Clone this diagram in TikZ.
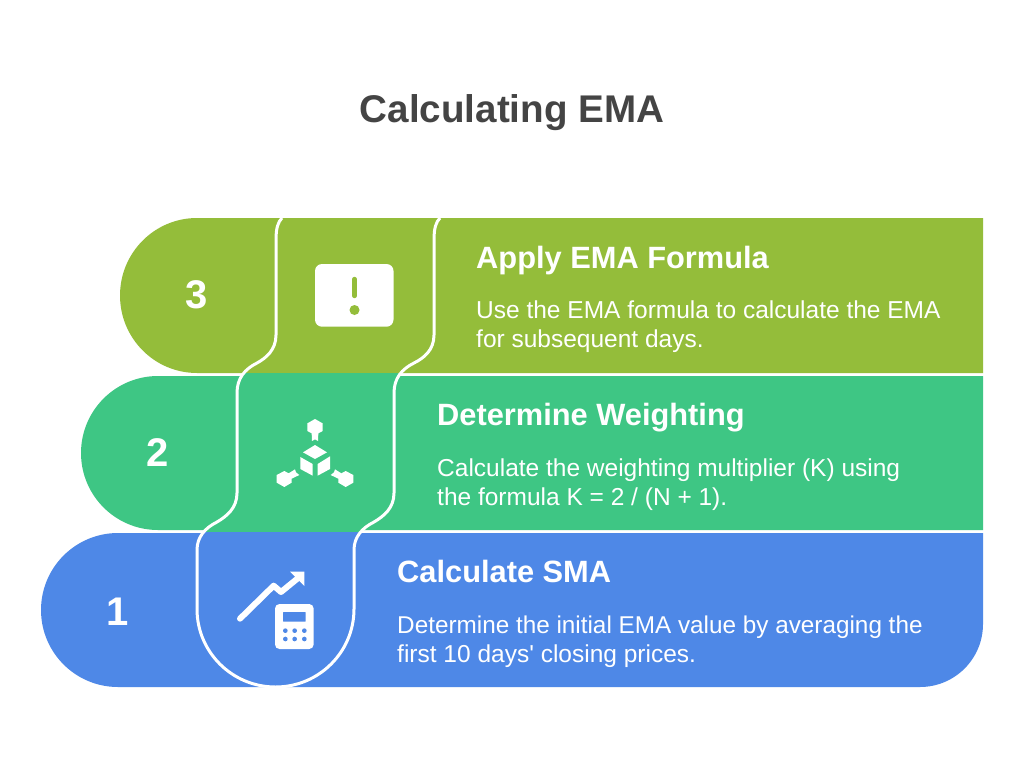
\documentclass[tikz,border=0pt]{standalone}
\usepackage{fontspec}
\setmainfont{Liberation Sans}
\definecolor{olive}{HTML}{94BD3A}
\definecolor{mint}{HTML}{3EC684}
\definecolor{azure}{HTML}{4E88E7}
\definecolor{ink}{HTML}{444444}
\tikzset{
 wl/.style={draw=white,line width=3pt},
 heading/.style={anchor=base west,text=white,inner sep=0pt,font=\fontsize{30.8}{31}\selectfont\bfseries},
 body/.style={anchor=base west,text=white,inner sep=0pt,font=\fontsize{24.5}{25}\selectfont},
 num/.style={anchor=base,text=white,inner sep=0pt,font=\fontsize{40}{40}\selectfont\bfseries},
 zoomA/.style={x=0.33333pt,y=-0.33333pt},
}
\begin{document}
\begin{tikzpicture}[x=1pt,y=-1pt]
\useasboundingbox (0,0) rectangle (1024,768);
\fill[white] (0,0) rectangle (1024,768);
% bands
\fill[olive] (983,218) -- (197,218) arc[start angle=90,end angle=270,x radius=77,y radius=-77.5] -- (983,373) -- cycle;
\fill[mint] (983,376) -- (158,376) arc[start angle=90,end angle=270,x radius=77,y radius=-77] -- (983,530) -- cycle;
\fill[azure] (983,533) -- (118,533) arc[start angle=90,end angle=270,x radius=77,y radius=-77] -- (920,687) arc[start angle=270,end angle=360,radius=63,y radius=-63] -- cycle;
% patches joining the columns
\fill[mint] (243,373.3) rectangle (400,376.5);
\fill[mint] (205,529.5) rectangle (362,532);
\fill[azure] (205,532) rectangle (362,533.5);
% white curves
\draw[wl] (282,218) .. controls (278,222) and (276,228) .. (276,240) -- (276,335)
  .. controls (276,350) and (266,358) .. (257,363) .. controls (245,369) and (237,378) .. (237,393)
  -- (237,493) .. controls (237,508) and (227,516) .. (217,522) .. controls (205,528) and (197,537) .. (197,550)
  -- (197,609) arc[start angle=180,end angle=360,x radius=78.5,y radius=-78] -- (354,550)
  .. controls (354,537) and (362,528) .. (374,522) .. controls (384,516) and (394,508) .. (394,493)
  -- (394,393) .. controls (394,378) and (402,369) .. (414,363) .. controls (424,358) and (434,350) .. (434,335)
  -- (434,240) .. controls (434,228) and (436,222) .. (440,218);
% icon 3
\fill[white,rounded corners=7pt] (315,264) rectangle (393.5,326.7);
\draw[olive,line width=4.4pt,line cap=round] (354.5,279) -- (354.5,296);
\fill[olive] (354.5,310) circle[radius=5];
% icon 2
\begin{scope}[shift={(180,360)},zoomA]
\fill[white] (405,255) -- (441,277) -- (405,297) -- (369,277) -- cycle;
\fill[white] (361,291) -- (398,312) -- (398,347) -- (361,327) -- cycle;
\fill[white] (413,312) -- (450,289) -- (450,327) -- (413,347) -- cycle;
\fill[white] (405,177) -- (428,190) -- (428,213) -- (415,220) -- (414,243) -- (405,238) -- (396,243) -- (395,220) -- (382,213) -- (382,190) -- cycle;
\fill[white] (290,345) -- (313,333) -- (326,340) -- (345,328) -- (348,337) -- (358,345) -- (335,356) -- (335,368) -- (313,381) -- (290,368) -- cycle;
\fill[white] (520,345) -- (497,333) -- (484,340) -- (465,328) -- (462,337) -- (452,345) -- (475,356) -- (475,368) -- (497,381) -- (520,368) -- cycle;
\end{scope}
% icon 1
\begin{scope}[shift={(180,520)},zoomA]
\draw[white,line width=6pt,line cap=round,line join=round] (180,296) -- (281,197) -- (303,216) -- (352,176);
\fill[white] (330,155) -- (373,155) -- (373,198) -- cycle;
\fill[white,rounded corners=4.5pt] (285,252) rectangle (401,387);
\fill[azure,rounded corners=0.5pt] (309,276) rectangle (377,305);
\foreach \px in {316,344,373}\foreach \py in {332,357}{\fill[azure] (\px,\py) circle[radius=7];}
\end{scope}
% text
\node[anchor=base,inner sep=0pt,text=ink,font=\fontsize{38.6}{38}\selectfont\bfseries] (title) at (512,122) {Calculating EMA};
\node[num] (n3) at (197,308) {3};
\node[num] (n2) at (158,466) {2};
\node[num] (n1) at (118,625) {1};
\node[heading] (h3) at (476,268) {Apply EMA Formula};
\node[body] (b3a) at (476,318) {Use the EMA formula to calculate the EMA};
\node[body] (b3b) at (476,347) {for subsequent days.};
\node[heading] (h2) at (437,425) {Determine Weighting};
\node[body] (b2a) at (437,476) {Calculate the weighting multiplier (K) using};
\node[body] (b2b) at (437,505) {the formula K = 2 / (N + 1).};
\node[heading] (h1) at (397,582) {Calculate SMA};
\node[body,font=\fontsize{24.3}{25}\selectfont] (b1a) at (397,633) {Determine the initial EMA value by averaging the};
\node[body] (b1b) at (397,662) {first 10 days\textquotesingle{} closing prices.};
\end{tikzpicture}
\end{document}
